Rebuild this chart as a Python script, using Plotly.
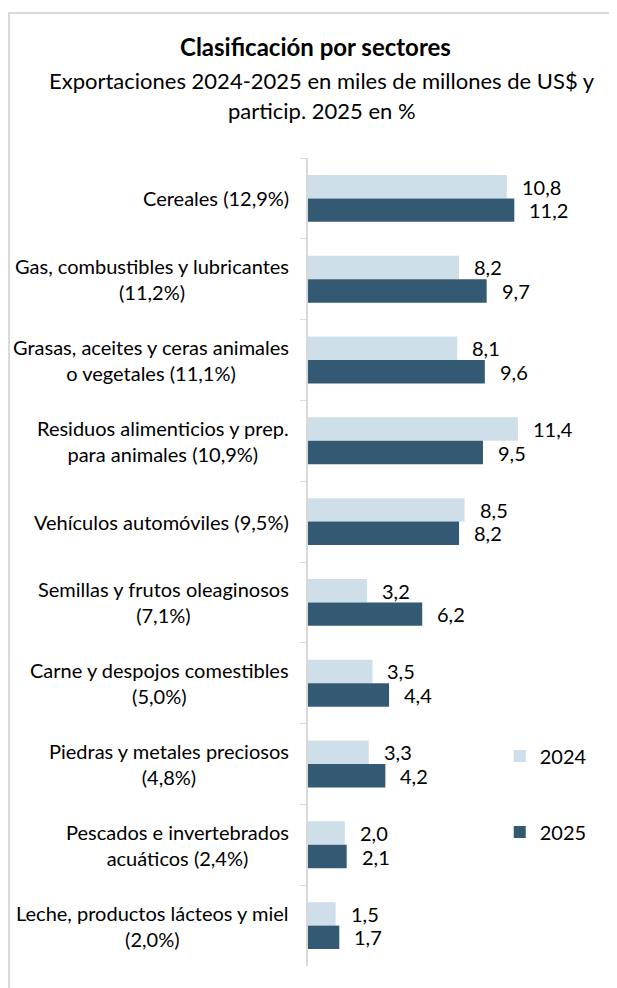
import plotly.graph_objects as go

categorias = [
    "Cereales (12,9%)",
    "Gas, combustibles y lubricantes<br>(11,2%)",
    "Grasas, aceites y ceras animales<br>o vegetales (11,1%)",
    "Residuos alimenticios y prep.<br>para animales (10,9%)",
    "Vehículos automóviles (9,5%)",
    "Semillas y frutos oleaginosos<br>(7,1%)",
    "Carne y despojos comestibles<br>(5,0%)",
    "Piedras y metales preciosos<br>(4,8%)",
    "Pescados e invertebrados<br>acuáticos (2,4%)",
    "Leche, productos lácteos y miel<br>(2,0%)",
]
valores_2024 = [10.8, 8.2, 8.1, 11.4, 8.5, 3.2, 3.5, 3.3, 2.0, 1.5]
valores_2025 = [11.2, 9.7, 9.6, 9.5, 8.2, 6.2, 4.4, 4.2, 2.1, 1.7]

titulo = "Clasificación por sectores"
subtitulo = ["Exportaciones 2024-2025 en miles de millones de US$ y", "particip. 2025 en %"]

COLOR_2024 = "#cfdfe9"
COLOR_2025 = "#345a73"
FONT = "Lato"
BAR_GAP = 0.42

fig = go.Figure()
fig.add_trace(go.Bar(y=categorias, x=valores_2024, name="2024", orientation="h",
                     marker=dict(color=COLOR_2024, line=dict(width=0)),
                     legendgroup="a"))
fig.add_trace(go.Bar(y=categorias, x=valores_2025, name="2025", orientation="h",
                     marker=dict(color=COLOR_2025, line=dict(width=0)),
                     legendgroup="b"))

annots = []
n = len(categorias)
half = (1 - BAR_GAP) / 4  # centre offset of each bar within its group
for i, cat in enumerate(categorias):
    for v, off in ((valores_2024[i], -half), (valores_2025[i], half)):
        annots.append(dict(x=v, y=i + off, xref="x", yref="y", text=f"{v:.1f}".replace(".", ","),
                           showarrow=False, xanchor="left", xshift=13,
                           font=dict(family=FONT, size=20, color="#000")))
    # category labels: centred blocks aligned to the axis
    annots.append(dict(x=0, y=i, xref="paper", yref="y", text=cat, showarrow=False,
                       xanchor="right", align="center", xshift=-17,
                       font=dict(family=FONT, size=20, color="#000")))

annots.append(dict(x=0.028, y=1.1374, xref="paper", yref="paper", text=f"<b>{titulo}</b>",
                   showarrow=False, xanchor="center", yanchor="middle",
                   font=dict(family=FONT, size=24, color="#000")))
for txt, yy in zip(subtitulo, (1.0965, 1.0582)):
    annots.append(dict(x=0.05, y=yy, xref="paper", yref="paper", text=txt,
                       showarrow=False, xanchor="center", yanchor="middle",
                       font=dict(family=FONT, size=22, color="#000")))

fig.update_layout(
    width=609, height=980,
    paper_bgcolor="white", plot_bgcolor="white",
    margin=dict(l=300, r=27, t=150, b=22),
    barmode="group", bargap=BAR_GAP, bargroupgap=0,
    xaxis=dict(range=[0, 15.31], visible=False),
    yaxis=dict(type="category", autorange=False, range=[n - 0.5, -0.5],
               showticklabels=False, showline=True, linecolor="#d9d9d9", linewidth=1.5,
               ticks="outside", tickson="boundaries", ticklen=6, tickcolor="#d9d9d9",
               showgrid=False, zeroline=False),
    legend=dict(x=0.68, y=0.284, xanchor="left", yanchor="top", traceorder="grouped",
                tracegroupgap=47, font=dict(family=FONT, size=20, color="#000"),
                itemwidth=30, bgcolor="rgba(0,0,0,0)"),
    annotations=annots,
    shapes=[dict(type="rect", xref="paper", yref="paper", x0=-1.06, x1=2, y0=-1, y1=1.1795,
                 line=dict(color="#d9d9d9", width=2), fillcolor="rgba(0,0,0,0)", layer="below")],
)

fig.write_html("out.html")
